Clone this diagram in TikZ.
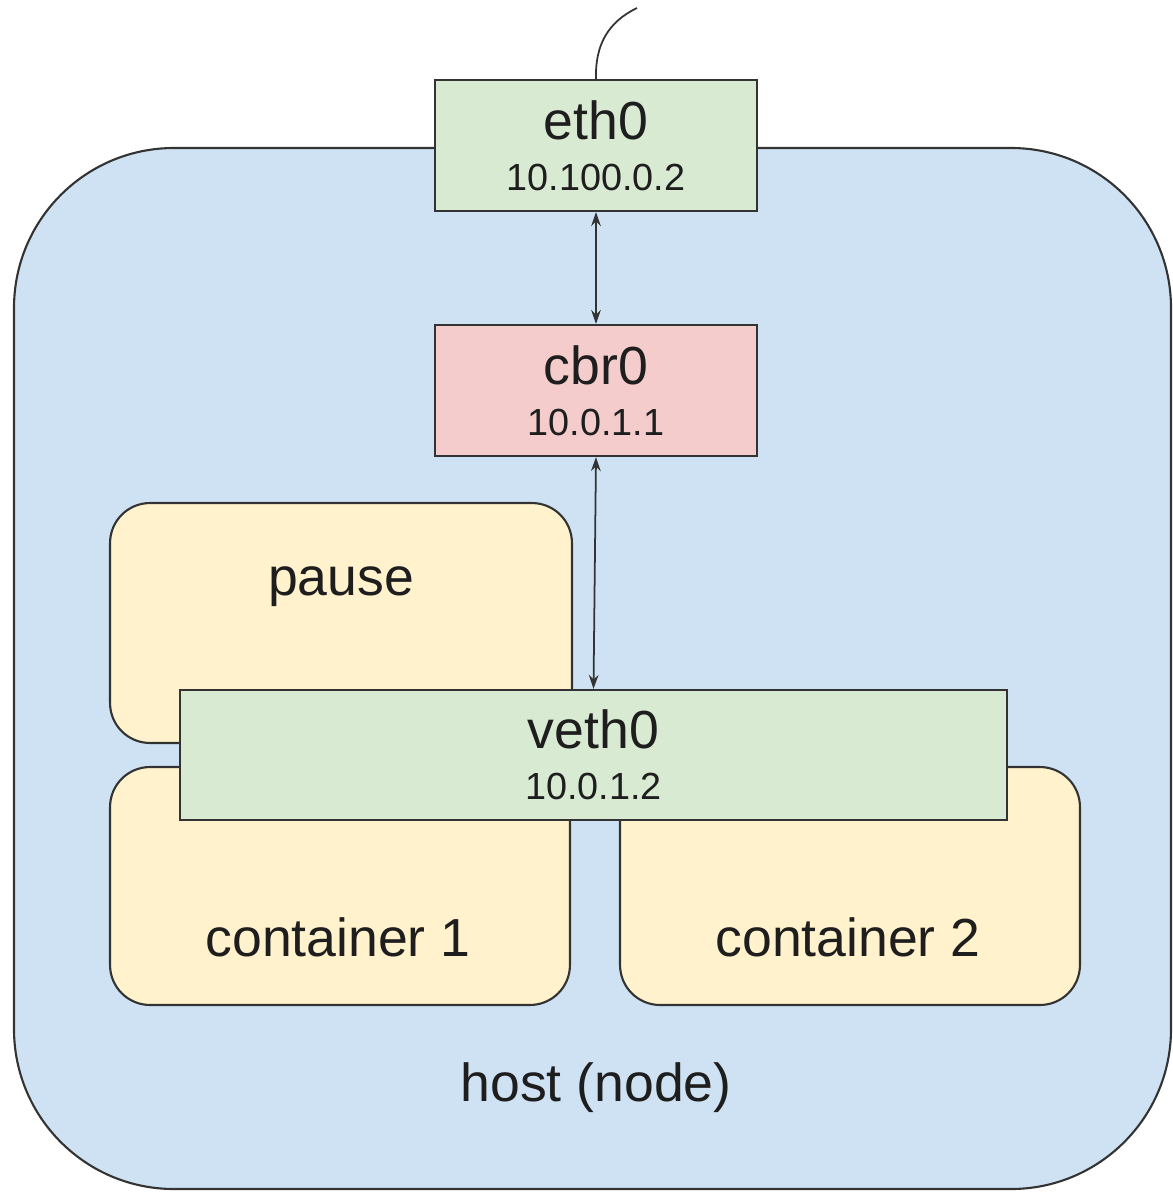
\documentclass[tikz,border=0pt]{standalone}
\usepackage{fontspec}
\setmainfont{Liberation Sans}
\usetikzlibrary{arrows.meta}

\definecolor{hostblue}{HTML}{CFE2F3}
\definecolor{ifgreen}{HTML}{D9EAD3}
\definecolor{brred}{HTML}{F4CCCC}
\definecolor{podyellow}{HTML}{FFF2CC}
\definecolor{edgegray}{HTML}{333333}
\definecolor{txtgray}{HTML}{1E1E1E}

\newcommand{\bigtxt}{\fontsize{30.5}{29}\selectfont}
\newcommand{\iptxt}{\fontsize{21.5}{29}\selectfont}

\tikzset{
  iface/.style={draw=edgegray, line width=1.2pt, fill=ifgreen, align=center,
    text=txtgray, font=\bigtxt, inner sep=0pt},
  bridge/.style={iface, fill=brred},
  podbox/.style={draw=edgegray, line width=1.2pt, fill=podyellow,
    rounded corners=0.8cm, inner sep=0pt},
  lbl/.style={text=txtgray, font=\bigtxt, inner sep=0pt},
  link/.style={line width=1pt, edgegray, {Stealth[length=8pt,width=5.5pt]}-{Stealth[length=8pt,width=5.5pt]}}
}

\begin{document}
\begin{tikzpicture}[x=0.02cm, y=-0.02cm]
		\useasboundingbox (0,0) rectangle (1173,1194);
		% host
		\draw [draw=edgegray, line width=1.2pt, fill=hostblue, rounded corners=3.2cm] (14,148) rectangle (1171,1189);
		\node [lbl] (hostlbl) at (596,1088) {host (node)};
		% pods
		\node [podbox, minimum width=9.24cm, minimum height=4.8cm] (pause) at (341,623) {};
		\node [lbl] (pauselbl) at (341,587) {pause};
		\node [podbox, minimum width=9.2cm, minimum height=4.76cm] (cont1) at (340,886) {};
		\node [lbl] (cont1lbl) at (338,937) {container 1};
		\node [podbox, minimum width=9.2cm, minimum height=4.76cm] (cont2) at (850,886) {};
		\node [lbl] (cont2lbl) at (848,937) {container 2};
		% interfaces
		\node [iface, minimum width=16.54cm, minimum height=2.6cm] (veth0) at (593.5,755) {veth0\\\iptxt 10.0.1.2};
		\node [iface, minimum width=6.44cm, minimum height=2.62cm] (eth0) at (596,145.5) {eth0\\\iptxt 10.100.0.2};
		\node [bridge, minimum width=6.44cm, minimum height=2.62cm] (cbr0) at (596,390.5) {cbr0\\\iptxt 10.0.1.1};
		% links
		\coordinate (uplink) at (637,8);
		\draw [line width=1pt, edgegray] (eth0.north) .. controls (595,45) and (608,22) .. (uplink);
		\draw [link] (eth0.south) -- (cbr0.north);
		\draw [link] (cbr0.south) -- (veth0.north);
	\end{tikzpicture}
\end{document}
